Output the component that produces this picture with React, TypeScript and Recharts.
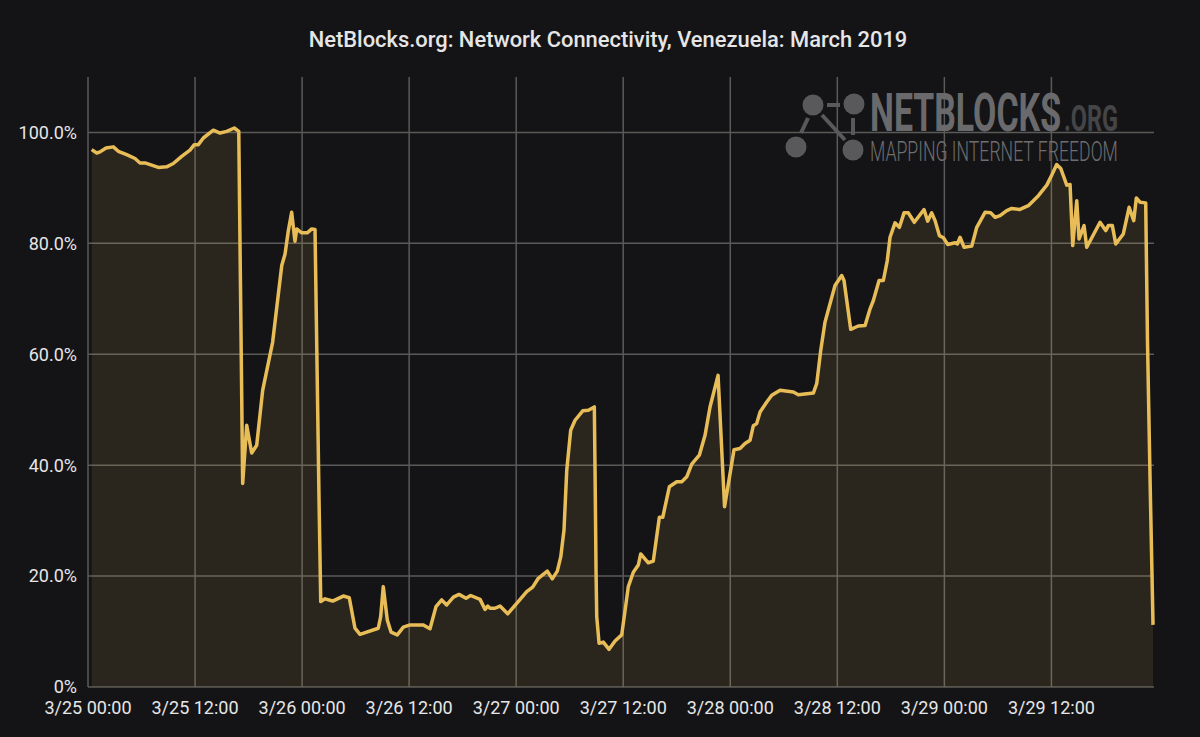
import { Area, AreaChart, CartesianGrid, XAxis, YAxis } from 'recharts';

// hours since 3/25 00:00
const hours = [
  0.41, 0.98, 1.35, 2.02, 2.84, 3.4, 4.34, 5.27, 5.83, 6.39, 7.88, 8.82, 9.56, 10.5, 11.43, 11.92, 12.37, 12.93, 14.05, 14.8, 15.55, 16.4, 16.9,
  17.34, 17.79, 18.35, 18.91, 19.58, 20.7, 21.72, 22.09, 22.46, 22.83, 23.2, 23.4, 23.96, 24.58, 25.08, 25.45, 25.9,
  26.09, 26.57, 27.43, 28.62, 29.29, 29.93, 30.49, 32.54, 32.81, 33.1, 33.55, 33.97, 34.67, 35.35, 36.1, 37.59, 38.34, 39.01, 39.65, 40.21, 40.96, 41.59, 42.38, 42.9, 43.95, 44.51, 44.81, 45.07, 45.63, 46.19, 47.05, 48.06, 49.18, 49.85, 50.48,
  51.49, 52.05, 52.61, 53.0, 53.36, 53.67, 54.11, 54.6, 55.46, 56.09, 56.76, 56.84, 56.95, 57.03, 57.29, 57.77, 58.41, 59.08, 59.83, 60.57, 61.13, 61.69, 61.96, 62.81, 63.37, 64.05, 64.43, 65.17, 66.0, 66.56, 67.12, 67.68, 68.53, 69.17, 69.73, 70.63, 71.36,
  72.42, 73.09, 73.65, 74.22, 74.58, 74.96, 75.34, 76.09, 76.65, 77.58, 79.07, 79.63, 81.31, 81.69, 82.14, 82.62, 83.74, 84.49, 84.75, 85.5, 86.35, 87.11, 87.67, 88.04, 88.68, 89.16, 89.6,
  89.91, 90.47, 90.96, 91.48, 91.96, 92.63, 93.72, 94.13, 94.58, 94.96, 95.44, 95.89, 96.38, 97.2, 97.46, 97.76, 98.21, 99.07, 99.63, 100.56, 101.2, 101.68, 102.24, 102.99, 103.55, 104.41, 105.41, 106.54, 107.48, 108.03, 108.59, 109.05, 109.72, 110.09,
  110.39, 110.84, 111.1, 111.66, 111.96, 113.45, 114.09, 114.38, 114.83, 115.21, 116.06, 116.71, 117.23, 117.52, 117.96, 118.57, 118.77, 119.06, 119.39,
];

const connectivity = [
  96.9, 96.3, 96.5, 97.2, 97.4, 96.6, 96.0, 95.3, 94.5, 94.5, 93.7, 93.8, 94.4, 95.7, 96.8, 97.8, 97.8, 99.0, 100.4, 99.9, 100.2, 100.8, 100.2,
  36.7, 47.2, 42.2, 43.6, 53.5, 62.2, 76.0, 78.1, 82.3, 85.6, 80.4, 82.6, 81.9, 81.9, 82.6, 82.5, 33.7,
  15.4, 15.9, 15.5, 16.4, 16.1, 10.6, 9.5, 10.6, 12.7, 18.1, 12.1, 9.9, 9.4, 10.8, 11.2, 11.2, 10.5, 14.5, 15.7, 14.8, 16.2, 16.7, 16.0, 16.5, 15.8, 14.0, 14.6, 14.2, 14.2, 14.6, 13.2, 15.1, 17.2, 18.0, 19.6,
  20.9, 19.5, 20.9, 23.5, 28.3, 39.1, 46.3, 48.1, 49.8, 49.9, 50.5, 39.1, 21.1, 12.7, 7.9, 8.1, 6.8, 8.3, 9.4, 18.1, 20.7, 22.0, 24.0, 22.4, 22.7, 30.6, 30.6, 36.1, 37.0, 37.0, 37.9, 40.2, 41.8, 45.4, 50.5, 56.2, 32.5,
  42.8, 43.0, 43.9, 44.5, 47.1, 47.5, 49.6, 51.4, 52.6, 53.5, 53.2, 52.7, 53.0, 54.7, 60.7, 65.8, 72.4, 74.2, 73.3, 64.5, 65.1, 65.2, 68.2, 69.7, 73.3, 73.3, 76.9,
  81.1, 83.7, 82.9, 85.5, 85.5, 83.8, 86.1, 84.0, 85.5, 84.1, 81.4, 81.0, 79.8, 80.1, 79.9, 81.1, 79.3, 79.5, 82.9, 85.6, 85.5, 84.7, 85.0, 85.9, 86.3, 86.1, 86.8, 88.6, 90.5, 92.3, 94.2, 93.5, 90.5, 90.6,
  79.6, 87.7, 80.8, 83.2, 79.3, 83.8, 82.3, 83.2, 83.2, 79.9, 81.7, 86.5, 84.1, 88.2, 87.4, 87.3, 62.5, 37.3, 11.2,
];

const xTicks = [0, 12, 24, 36, 48, 60, 72, 84, 96, 108];
const xLabels = ['3/25 00:00', '3/25 12:00', '3/26 00:00', '3/26 12:00', '3/27 00:00', '3/27 12:00', '3/28 00:00', '3/28 12:00', '3/29 00:00', '3/29 12:00'];
const yTicks = [0, 20, 40, 60, 80, 100];
const yLabels = ['0%', '20.0%', '40.0%', '60.0%', '80.0%', '100.0%'];

const chartData = hours.map((h, i) => ({ hour: h, value: connectivity[i] }));

const tickStyle = { fontSize: 18, fill: '#e6e6e6', fontFamily: 'Roboto' };

function Watermark() {
  const gray = '#59595b';
  return (
    <svg width={1200} height={737} style={{ position: 'absolute', left: 0, top: 0, pointerEvents: 'none' }}>
      <text x={608} y={47} textAnchor="middle" fontFamily="Roboto" fontWeight={500} fontSize={21.9} fill="#e6e6e6">
        NetBlocks.org: Network Connectivity, Venezuela: March 2019
      </text>
      <g fill={gray}>
        <circle cx={813} cy={105} r={10.5} />
        <circle cx={854} cy={104} r={10.5} />
        <circle cx={796} cy={147} r={10.5} />
        <circle cx={853} cy={150} r={10.5} />
      </g>
      <g stroke={gray} strokeWidth={4}>
        <line x1={827} y1={105} x2={840} y2={105} />
        <line x1={808} y1={118} x2={801} y2={133} />
        <line x1={822} y1={115} x2={845} y2={140} />
        <line x1={853} y1={118} x2={853} y2={135} />
      </g>
      {/* squeezed Roboto, no condensed face is installed */}
      <text transform="translate(870,131) scale(0.623,1)" fontFamily="Roboto" fontWeight={700} fontSize={54} fill="#6a6a6c" textLength={306.6} lengthAdjust="spacingAndGlyphs">
        NETBLOCKS
      </text>
      <text transform="translate(1064,131) scale(0.66,1)" fontFamily="Roboto" fontWeight={700} fontSize={36} fill="#454547" textLength={81.9} lengthAdjust="spacingAndGlyphs">
        .ORG
      </text>
      <text transform="translate(870,161) scale(0.634,1)" fontFamily="Roboto" fontWeight={300} fontSize={28} fill="#6e6e70" textLength={391} lengthAdjust="spacingAndGlyphs">
        MAPPING INTERNET FREEDOM
      </text>
    </svg>
  );
}

export default function App() {
  return (
    <div style={{ position: 'fixed', left: 0, top: 0, width: 1200, height: 737, background: '#141416', overflow: 'hidden' }}>
      <AreaChart width={1200} height={737} data={chartData} margin={{ top: 77, right: 46, bottom: 0, left: 0 }}>
        <CartesianGrid stroke="#5a5a58" strokeWidth={1.5} horizontalValues={yTicks} verticalValues={xTicks} />
        <XAxis
          dataKey="hour"
          type="number"
          domain={[0, 119.5]}
          ticks={xTicks}
          tickFormatter={(v: number) => xLabels[xTicks.indexOf(v)]}
          interval={0}
          height={50}
          tick={tickStyle}
          tickLine={false}
          axisLine={false}
          tickMargin={8}
        />
        <YAxis
          domain={[0, 110]}
          ticks={yTicks}
          tickFormatter={(v: number) => yLabels[yTicks.indexOf(v)]}
          width={88}
          tick={tickStyle}
          tickLine={false}
          axisLine={false}
          tickMargin={5}
        />
        <Area
          type="linear"
          dataKey="value"
          stroke="#e8bd58"
          strokeWidth={3.5}
          strokeLinejoin="round"
          fill="#e8bd58"
          fillOpacity={0.11}
          dot={false}
          activeDot={false}
          isAnimationActive={false}
        />
      </AreaChart>
      <Watermark />
    </div>
  );
}
